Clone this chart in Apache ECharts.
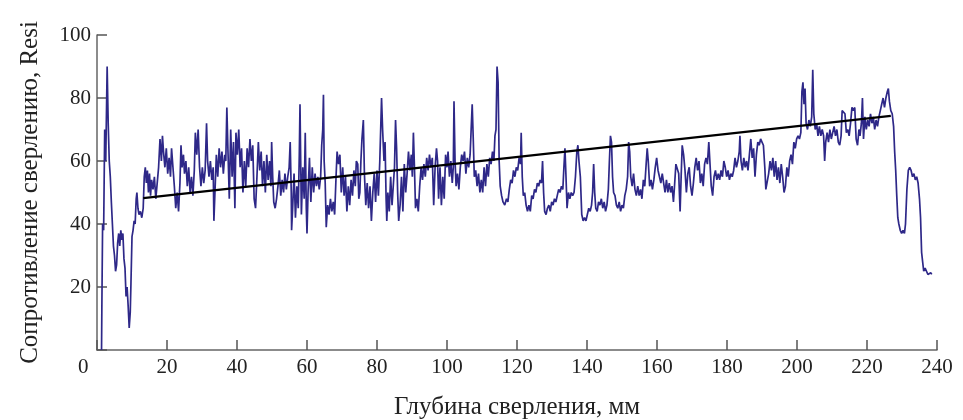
<!DOCTYPE html>
<html><head><meta charset="utf-8">
<script src="https://cdn.jsdelivr.net/npm/echarts@6/dist/echarts.min.js"></script>
<style>html,body{margin:0;padding:0;background:#fff;}#c{width:963px;height:420px;}</style>
</head><body><div id="c"></div>
<script>
// Drilling profile readings: [depth mm, resistance]
const signal = [
[1.3,0],[1.4,15],[1.6,40],[1.9,38],[2.2,70],[2.5,60],[2.9,90],[3.2,72],[3.5,60],[3.8,55],[4.1,47],[4.4,40],[4.7,33],[5.0,30],[5.3,25],[5.6,27],[5.9,34],[6.2,37],[6.5,33],[6.8,38],[7.1,35],[7.4,37],[7.7,29],[8.0,26],[8.3,17],[8.6,20],[8.9,14],[9.2,7],[9.5,12],[9.7,21],[10.0,36],[10.3,38],[10.6,41],[10.9,40],[11.2,48],[11.4,50],[11.7,45],[12.0,43],[12.4,44],[12.8,42],[13.2,45],[13.5,55],[13.8,58],[14.1,53],[14.4,57],[14.7,50],[15.0,56],[15.3,49],[15.6,54],[16.0,51],[16.4,55],[16.8,48],[17.2,53],[17.6,58],[18.0,67],[18.4,60],[18.7,68],[19.0,63],[19.4,58],[19.8,64],[20.2,56],[20.6,61],[21.0,55],[21.3,64],[21.7,58],[22.1,52],[22.5,45],[22.9,50],[23.3,44],
[23.7,53],[24.0,65],[24.3,58],[24.7,62],[25.0,56],[25.4,60],[25.8,52],[26.2,58],[26.6,50],[27.0,55],[27.4,49],[27.8,57],[28.1,69],[28.5,62],[28.9,70],[29.3,58],[29.7,52],[30.1,58],[30.5,53],[30.9,57],[31.3,72],[31.6,60],[32.0,55],[32.4,60],[32.8,54],[33.2,58],[33.4,41],[33.7,50],[34.1,62],[34.5,55],[34.9,64],[35.3,58],[35.7,63],[36.1,56],[36.5,62],[36.8,60],[37.1,77],[37.4,64],[37.8,48],[38.2,70],[38.6,55],[39.0,66],[39.4,45],[39.7,69],[40.1,62],[40.5,70],[40.9,58],[41.3,64],[41.7,50],[42.1,60],[42.5,52],[42.9,64],[43.3,58],[43.7,67],[44.1,60],[44.5,65],[44.9,48],[45.3,45],[45.7,55],[46.1,66],[46.5,57],[46.9,63],[47.3,52],
[47.7,60],[48.1,50],[48.5,62],[48.9,54],[49.3,60],[49.7,52],[49.9,66],[50.2,55],[50.5,47],[50.9,45],[51.3,48],[51.7,52],[52.1,57],[52.5,49],[52.9,54],[53.3,50],[53.7,56],[54.1,51],[54.5,55],[54.9,58],[55.2,66],[55.5,50],[55.6,38],[55.9,45],[56.3,56],[56.7,42],[57.1,52],[57.5,45],[57.8,62],[58.0,78],[58.2,60],[58.4,43],[58.8,58],[59.2,48],[59.5,69],[59.8,45],[60.0,37],[60.3,50],[60.7,61],[61.1,47],[61.5,58],[61.9,50],[62.3,56],[62.7,52],[63.1,55],[63.5,51],[63.9,55],[64.2,65],[64.5,70],[64.7,81],[64.9,60],[65.2,53],[65.5,39],[65.9,46],[66.3,43],[66.7,48],[67.1,44],[67.5,47],[67.9,43],[68.3,55],[68.6,63],[69.0,59],[69.4,62],[69.8,50],[70.2,58],[70.6,49],[71.0,55],[71.4,44],[71.8,52],[72.2,46],
[72.6,54],[73.0,49],[73.4,57],[73.8,52],[74.1,60],[74.5,59],[74.8,48],[75.1,50],[75.4,60],[75.7,67],[76.1,73],[76.4,56],[76.8,46],[77.2,53],[77.6,45],[78.0,52],[78.4,41],[78.8,50],[79.2,56],[79.6,47],[80.0,57],[80.4,49],[80.8,60],[81.1,72],[81.3,80],[81.6,70],[82.0,60],[82.3,66],[82.6,48],[82.8,41],[83.1,50],[83.5,44],[83.9,55],[84.3,46],[84.7,53],[85.0,58],[85.3,73],[85.6,64],[85.9,50],[86.2,41],[86.6,46],[87.0,55],[87.4,44],[87.8,59],[88.2,50],[88.6,56],[89.0,63],[89.4,57],[89.8,62],[90.1,55],[90.4,69],[90.7,58],[91.0,45],[91.4,48],[91.8,44],[92.2,52],[92.6,58],[93.0,54],[93.4,59],[93.8,55],[94.2,61],[94.6,57],[95.0,62],[95.4,58],[95.8,61],[96.2,46],[96.6,58],
[97.0,64],[97.3,60],[97.6,48],[98.0,58],[98.4,46],[98.8,55],[99.2,48],[99.6,62],[100.0,58],[100.3,63],[100.7,55],[101.1,60],[101.5,53],[101.8,58],[102.0,79],[102.3,60],[102.6,52],[103.0,56],[103.4,51],[103.8,58],[104.2,62],[104.6,60],[105.0,63],[105.4,56],[105.8,61],[106.2,58],[106.6,62],[106.9,70],[107.2,78],[107.5,67],[107.8,55],[108.2,57],[108.6,52],[109.0,56],[109.4,50],[109.8,54],[110.2,50],[110.6,58],[111.0,52],[111.4,59],[111.8,55],[112.2,61],[112.6,59],[113.0,63],[113.4,60],[113.7,68],[114.0,70],[114.3,90],[114.6,85],[114.9,60],[115.2,52],[115.6,49],[116.0,47],[116.5,46],[117.0,48],[117.4,47],[117.8,51],[118.2,54],[118.6,53],[119.0,57],[119.4,55],[119.8,58],[120.2,57],[120.6,61],
[121.0,59],[121.2,69],[121.5,55],[121.8,49],[122.2,50],[122.6,46],[123.0,44],[123.4,46],[123.8,44],[124.2,49],[124.6,48],[125.0,51],[125.4,50],[125.8,53],[126.2,52],[126.6,54],[127.0,53],[127.3,60],[127.6,50],[127.9,44],[128.3,43],[128.7,45],[129.1,46],[129.5,44],[129.9,47],[130.3,46],[130.7,48],[131.1,47],[131.5,49],[131.9,51],[132.3,50],[132.7,52],[133.1,51],[133.4,58],[133.7,64],[134.0,55],[134.3,45],[134.7,50],[135.1,48],[135.5,50],[135.9,49],[136.3,50],[136.7,55],[137.1,63],[137.4,65],[137.7,60],[138.1,55],[138.5,43],[138.9,41],[139.3,42],[139.7,41],[140.1,43],[140.5,45],[140.9,44],[141.3,46],[141.6,50],[141.9,59],[142.2,50],[142.5,45],[142.9,44],[143.3,47],[143.7,46],[144.1,48],
[144.5,45],[144.9,47],[145.3,44],[145.7,46],[146.1,51],[146.4,60],[146.7,68],[147.0,66],[147.3,55],[147.6,50],[148.0,49],[148.4,46],[148.8,45],[149.2,47],[149.6,44],[150.0,46],[150.4,45],[150.8,49],[151.2,51],[151.6,55],[151.9,66],[152.2,63],[152.5,55],[152.9,52],[153.3,56],[153.7,51],[154.1,49],[154.5,52],[154.9,49],[155.3,51],[155.7,48],[156.1,54],[156.5,52],[156.9,59],[157.2,64],[157.5,60],[157.9,52],[158.3,54],[158.7,51],[159.1,54],[159.5,58],[159.9,61],[160.3,57],[160.7,55],[161.1,53],[161.5,56],[161.9,53],[162.3,50],[162.7,54],[163.1,50],[163.5,53],[163.9,50],[164.3,52],[164.7,47],[165.0,52],[165.4,59],[165.8,59],[166.2,56],[166.6,44],[166.9,55],[167.2,65],[167.6,62],[168.0,57],[168.4,50],[168.8,56],
[169.2,58],[169.6,52],[170.0,49],[170.4,53],[170.8,58],[171.2,61],[171.6,57],[172.0,60],[172.4,53],[172.8,56],[173.2,52],[173.6,59],[174.0,61],[174.4,59],[174.8,66],[175.1,60],[175.5,52],[175.9,49],[176.3,55],[176.7,57],[177.1,54],[177.5,56],[177.9,54],[178.3,57],[178.7,55],[179.1,60],[179.5,58],[179.9,55],[180.3,57],[180.7,54],[181.1,56],[181.5,55],[181.9,57],[182.3,61],[182.7,58],[183.1,60],[183.5,63],[183.7,68],[184.0,60],[184.4,57],[184.8,61],[185.2,58],[185.6,60],[186.0,57],[186.4,62],[186.8,67],[187.2,61],[187.6,64],[188.0,55],[188.4,62],[188.8,66],[189.2,65],[189.6,67],[190.0,66],[190.4,65],[190.8,58],[191.1,51],[191.5,51],[191.9,56],[192.3,60],[192.7,57],[193.1,61],
[193.5,55],[193.9,60],[194.3,54],[194.7,58],[195.1,53],[195.5,59],[195.9,55],[196.3,50],[196.7,52],[197.1,58],[197.5,55],[197.9,60],[198.3,62],[198.7,59],[199.1,66],[199.5,64],[199.9,67],[200.3,68],[200.7,67],[201.1,69],[201.4,82],[201.7,85],[202.0,78],[202.3,83],[202.6,72],[203.0,70],[203.4,73],[203.8,71],[204.2,74],[204.5,89],[204.8,75],[205.2,70],[205.6,72],[206.0,68],[206.4,71],[206.8,68],[207.2,70],[207.6,68],[207.9,60],[208.2,66],[208.6,69],[209.0,66],[209.4,70],[209.8,67],[210.2,69],[210.6,71],[211.0,68],[211.4,70],[211.8,66],[212.2,65],[212.6,68],[212.9,76],[213.3,76],[213.7,75],[214.1,69],[214.5,70],[214.9,68],[215.3,72],[215.7,77],[216.1,76],[216.5,77],[216.9,67],[217.3,65],[217.7,70],
[218.0,68],[218.4,72],[218.7,80],[219.0,67],[219.4,74],[219.8,70],[220.2,73],[220.6,71],[221.0,75],[221.4,72],[221.8,74],[222.2,70],[222.6,73],[223.0,71],[223.4,74],[223.8,76],[224.2,78],[224.6,80],[225.0,77],[225.4,80],[225.8,82],[226.1,83],[226.4,79],[226.8,76],[227.2,75],[227.6,71],[227.9,63],[228.2,57],[228.5,49],[228.8,42],[229.1,40],[229.5,38],[229.9,37],[230.3,38],[230.7,37],[231.0,40],[231.4,51],[231.8,57],[232.2,58],[232.6,57],[233.0,55],[233.4,56],[233.8,54],[234.2,55],[234.6,53],[235.0,48],[235.3,42],[235.6,31],[235.9,28],[236.2,25],[236.6,26],[237.0,25],[237.4,24],[237.8,24],[238.2,24.5],[238.5,24]
];
// Linear trend endpoints
const trendDepth = [13.2, 226.8];
const trendResi = [48.2, 74.3];
// Axes
const xTicks = [0, 20, 40, 60, 80, 100, 120, 140, 160, 180, 200, 220, 240];
const yTicks = [0, 20, 40, 60, 80, 100];
const xTitle = 'Глубина сверления, мм';
const yTitle = 'Сопротивление сверлению, Resi';

const font = '"Liberation Serif", "Times New Roman", serif';
const chart = echarts.init(document.getElementById('c'), null, {renderer: 'canvas'});
chart.setOption({
  animation: false,
  backgroundColor: '#fff',
  grid: {left: 97, right: 26, top: 35, bottom: 70, containLabel: false, outerBoundsMode: 'none'},
  xAxis: {
    type: 'value', min: xTicks[0], max: xTicks[xTicks.length - 1], interval: 20,
    name: xTitle, nameLocation: 'middle', nameGap: 45,
    nameTextStyle: {fontFamily: font, fontSize: 25, color: '#222'},
    axisLine: {lineStyle: {color: '#666', width: 1.5}},
    axisTick: {inside: true, length: 10, lineStyle: {color: '#555', width: 1.5}},
    axisLabel: {fontFamily: font, fontSize: 21, color: '#222', margin: 7,
      formatter: v => (v === 0 ? '' : String(v))},
    splitLine: {show: false}
  },
  yAxis: {
    type: 'value', min: yTicks[0], max: yTicks[yTicks.length - 1], interval: 20,
    name: yTitle, nameLocation: 'middle', nameGap: 54, nameRotate: 90,
    nameTextStyle: {fontFamily: font, fontSize: 25, color: '#222'},
    axisLine: {lineStyle: {color: '#666', width: 1.5}},
    axisTick: {inside: true, length: 10, lineStyle: {color: '#555', width: 1.5}},
    axisLabel: {fontFamily: font, fontSize: 21, color: '#222', margin: 6,
      formatter: v => (v === 0 ? '' : String(v))},
    splitLine: {show: false}
  },
  graphic: [{type: 'text', left: 78, top: 357,
    style: {text: String(xTicks[0]), font: '21px ' + font, fill: '#222'}}],
  series: [
    {type: 'line', data: signal, showSymbol: false, symbol: 'none',
      lineStyle: {color: '#2e2888', width: 1.7}, z: 2},
    {type: 'line', data: trendDepth.map((d, i) => [d, trendResi[i]]), showSymbol: false, symbol: 'none',
      lineStyle: {color: '#000', width: 2.2}, z: 3}
  ]
});
</script></body></html>
